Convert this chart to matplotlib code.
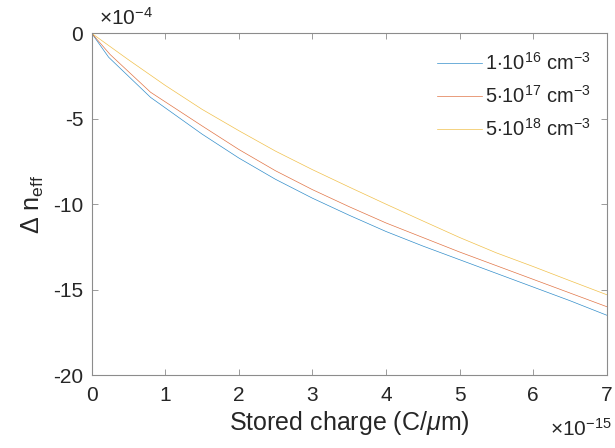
import numpy as np
import matplotlib
matplotlib.use('Agg')
import matplotlib.pyplot as plt

# stored charge, units of 1e-15 C/um
q_lo = [0, 0.23, 0.8, 1.5, 2, 2.5, 3, 3.5, 4, 4.5, 5, 5.5, 6, 6.5, 7]
q_mid = [0, 0.25, 0.8, 1.5, 2, 2.5, 3, 3.5, 4, 4.5, 5, 5.5, 6, 6.5, 7]
q_hi = [0, 0.5, 1, 1.5, 2, 2.5, 3, 3.5, 4, 4.5, 5, 5.5, 6, 6.5, 7]

# effective index change, units of 1e-4
dn_lo = [0, -1.4, -3.75, -5.9, -7.3, -8.55, -9.65, -10.65, -11.6, -12.45,
         -13.25, -14.05, -14.85, -15.65, -16.5]
dn_mid = [0, -1.24, -3.45, -5.42, -6.8, -8.05, -9.15, -10.15, -11.1, -11.95,
          -12.8, -13.6, -14.4, -15.2, -16.0]
dn_hi = [0, -1.55, -3.05, -4.45, -5.7, -6.9, -7.98, -9.0, -10.0, -10.98,
         -11.95, -12.85, -13.65, -14.48, -15.3]

labels = [r'1$\cdot$10$^{16}$ cm$^{-3}$',
          r'5$\cdot$10$^{17}$ cm$^{-3}$',
          r'5$\cdot$10$^{18}$ cm$^{-3}$']
colors = ['#0072BD', '#D95319', '#EDB120']

plt.rcParams['font.family'] = ['Liberation Sans', 'DejaVu Sans']
plt.rcParams['mathtext.fontset'] = 'custom'
plt.rcParams['mathtext.rm'] = 'Liberation Sans'
plt.rcParams['mathtext.it'] = 'Liberation Sans:italic'
plt.rcParams['axes.unicode_minus'] = False

fig = plt.figure(figsize=(6.15, 4.48), dpi=100)
ax = fig.add_axes([91.7 / 615, 1 - 375 / 448, 515 / 615, 341.7 / 448])

for q, dn, lab, c in zip([q_lo, q_mid, q_hi], [dn_lo, dn_mid, dn_hi], labels, colors):
    ax.plot(q, dn, color=c, lw=0.5, alpha=0.8, label=lab)

ax.set_xlim(0, 7)
ax.set_ylim(-20, 0)
ax.set_xticks(range(0, 8))
ax.set_yticks([-20, -15, -10, -5, 0])

axis_col = '#262626'
for s in ax.spines.values():
    s.set_color('#8c8c8c')
    s.set_linewidth(0.8)
ax.tick_params(direction='in', length=4, width=0.6, color='#8c8c8c',
               top=True, right=True, labelsize=15, labelcolor=axis_col, pad=6)
ax.tick_params(axis='x', pad=8)

ax.set_xlabel(r'Stored charge (C/$\mu$m)', fontsize=18, color=axis_col, labelpad=3)
ax.set_ylabel(r'$\Delta$ n$_{\mathregular{eff}}$', fontsize=18, color=axis_col, labelpad=5)

fig.text(99 / 615, 1 - 25 / 448, r'$\times$10$^{-4}$', fontsize=15,
         color=axis_col, ha='left', va='baseline')
fig.text(550 / 615, 1 - 436 / 448, r'$\times$10$^{-15}$', fontsize=15,
         color=axis_col, ha='left', va='baseline')

ax.legend(loc='upper right', bbox_to_anchor=(0.968, 0.945), frameon=False,
          fontsize=14.5, handlelength=2.2, handletextpad=0.15,
          labelspacing=0.55, borderpad=0, borderaxespad=0,
          labelcolor=axis_col)

fig.savefig('out.png', dpi=100)
